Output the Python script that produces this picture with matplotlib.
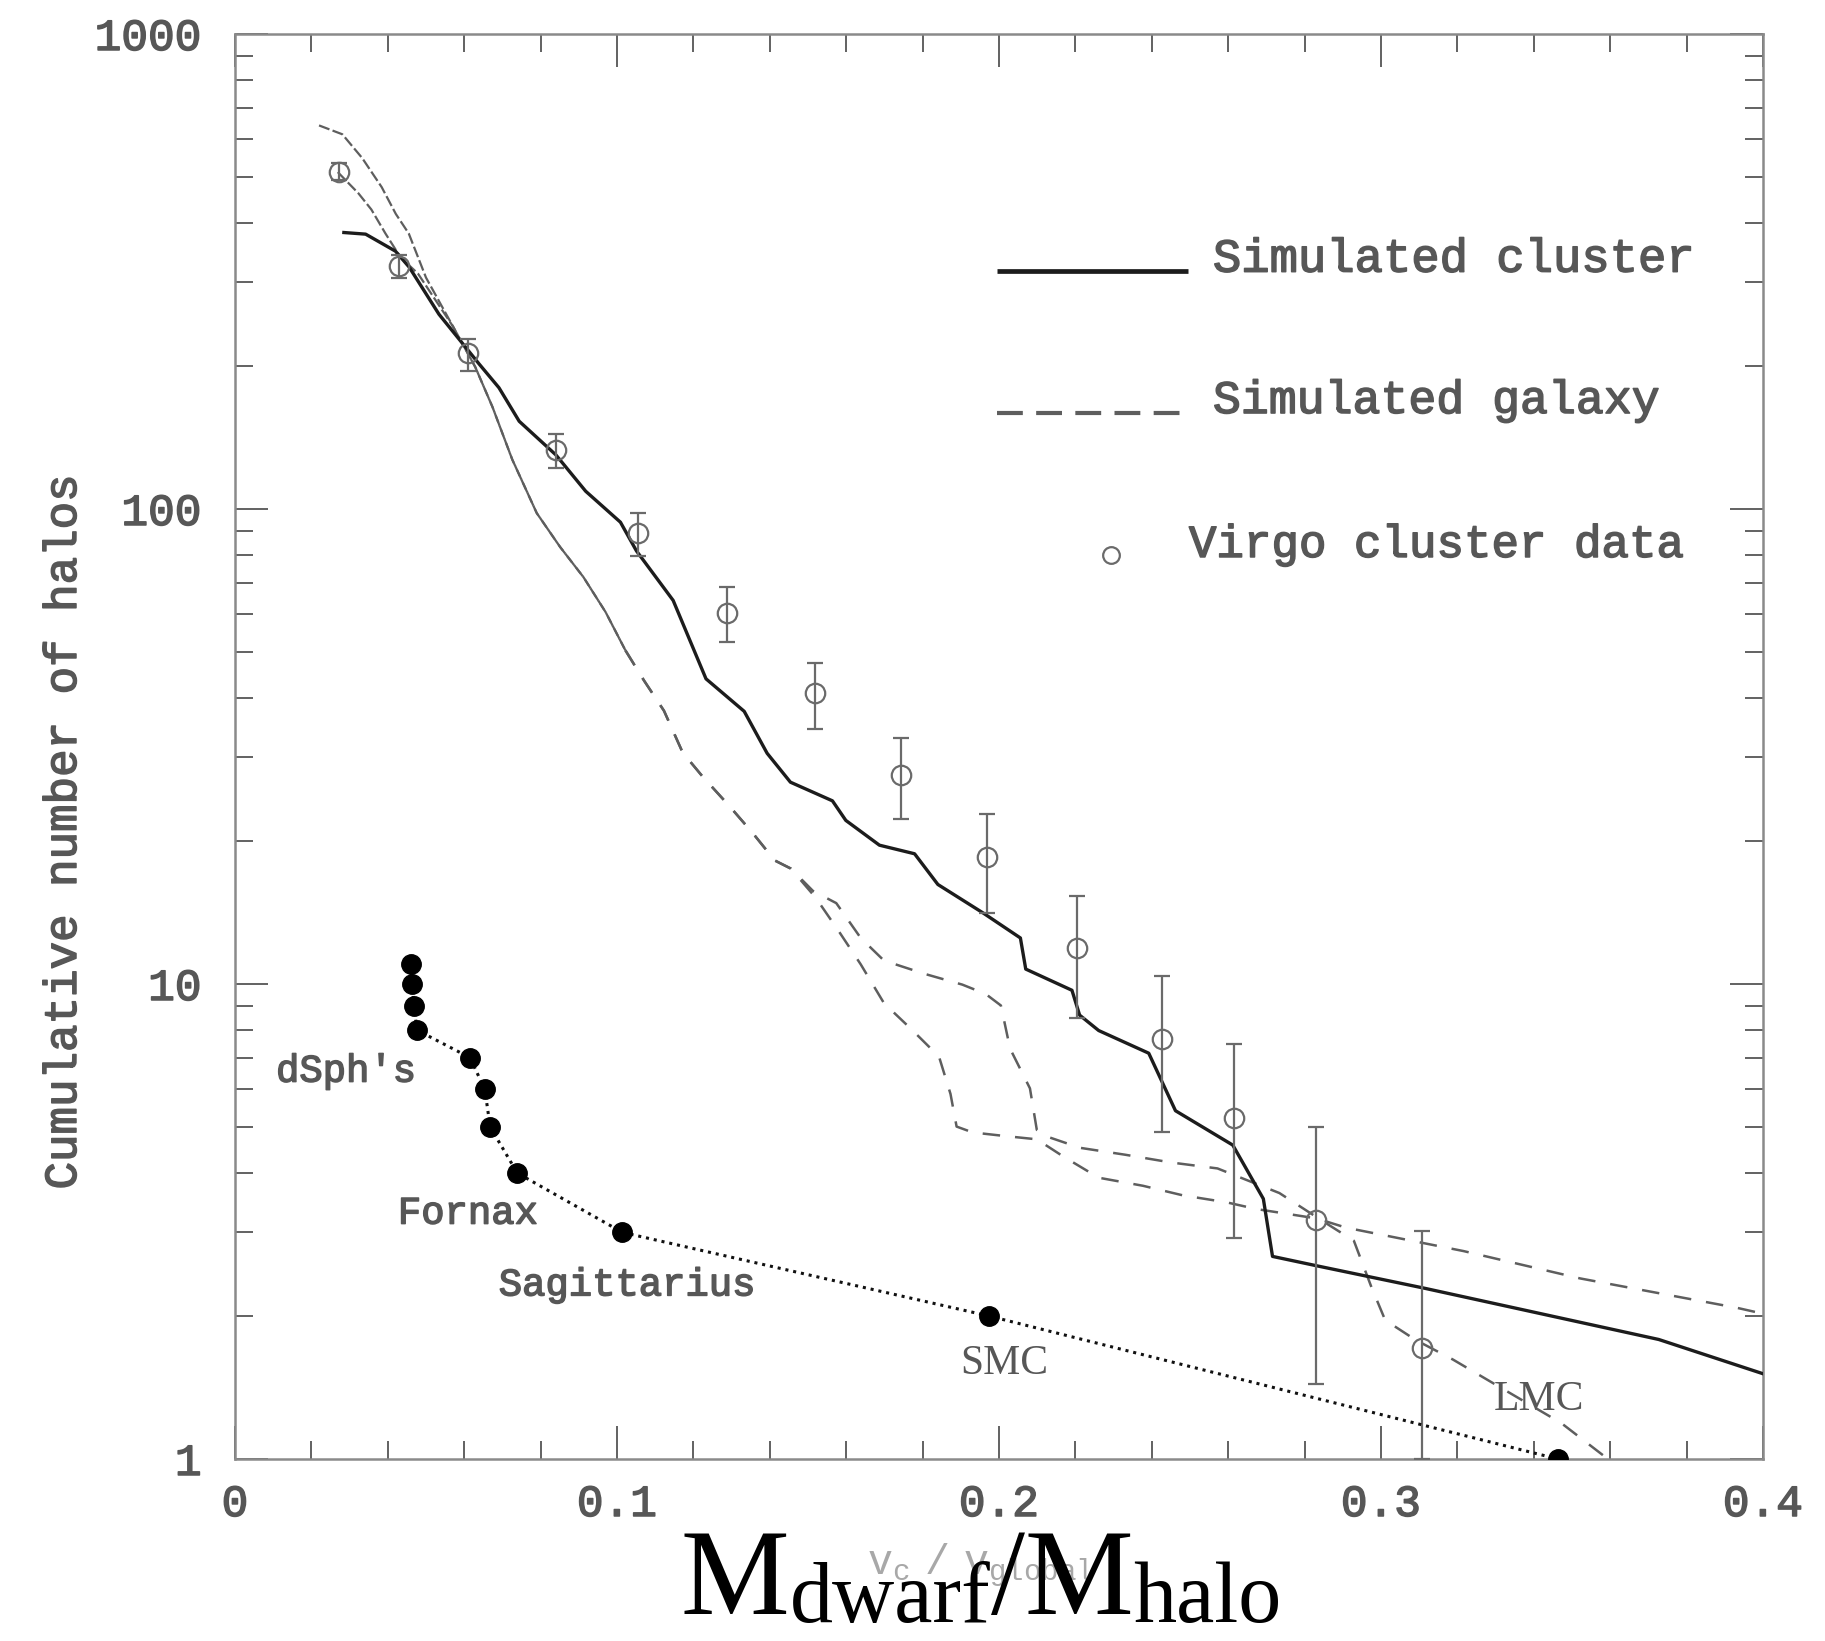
import matplotlib
matplotlib.use("Agg")
import matplotlib.pyplot as plt
import matplotlib.patheffects as pe
from matplotlib.ticker import FixedLocator, MultipleLocator, NullFormatter, LogLocator

# ---------------------------------------------------------------- data
# Simulated cluster: cumulative number of halos vs v_c / v_global
cluster_x = [0.0285, 0.0342, 0.0420, 0.0456, 0.0534, 0.0639, 0.0691, 0.0744,
             0.0840, 0.0918, 0.1009, 0.1051, 0.1147, 0.1233, 0.1333, 0.1393,
             0.1454, 0.1564, 0.1599, 0.1687, 0.1779, 0.1840, 0.1959, 0.2056,
             0.2070, 0.2191, 0.2211, 0.2261, 0.2392, 0.2462, 0.2612, 0.2692,
             0.2716, 0.2833, 0.3112, 0.3727, 0.4002]
cluster_n = [382, 379, 349, 323, 257, 202, 180, 153,
             130, 109, 93.8, 81.6, 64.2, 43.9, 37.5, 30.6,
             26.6, 24.3, 22.1, 19.6, 18.8, 16.2, 14.1, 12.5,
             10.75, 9.70, 8.60, 7.98, 7.15, 5.41, 4.58, 3.53,
             2.67, 2.55, 2.29, 1.785, 1.51]

# Simulated galaxy halos (two runs)
galaxy_a_x = [0.0220, 0.0281, 0.0333, 0.0384, 0.0421, 0.0455, 0.0500, 0.0571,
              0.0629, 0.0674, 0.0726, 0.0790, 0.0851, 0.0912, 0.0970, 0.1022,
              0.1071, 0.1123, 0.1172, 0.1223, 0.1294, 0.1355, 0.1413, 0.1455,
              0.1513, 0.1574, 0.1638, 0.1699, 0.1806, 0.1904, 0.1965, 0.2005,
              0.2029, 0.2081, 0.2099, 0.2130, 0.2212, 0.2331, 0.2450, 0.2572,
              0.2734, 0.2847, 0.2929, 0.2975, 0.3011, 0.3091, 0.3188, 0.3286,
              0.3472, 0.3594]
galaxy_a_n = [642, 615, 548, 476, 418, 380, 307, 242,
              199, 164, 127, 98, 83.2, 71.9, 60.7, 50.4,
              43.5, 37.6, 30.7, 27.4, 23.7, 20.8, 18.2, 17.5,
              15.7, 14.8, 12.5, 11.2, 10.5, 9.97, 9.53, 9.01,
              7.31, 6.03, 4.93, 4.76, 4.52, 4.37, 4.21, 4.09,
              3.63, 3.17, 2.88, 2.30, 1.96, 1.78, 1.62, 1.456,
              1.19, 1.0]

galaxy_b_x = [0.0269, 0.0323, 0.0357, 0.0394, 0.0433, 0.0479, 0.0571, 0.0629,
              0.0674, 0.0726, 0.0790, 0.0851, 0.0912, 0.0970, 0.1022, 0.1071,
              0.1123, 0.1172, 0.1223, 0.1294, 0.1355, 0.1413, 0.1455, 0.1520,
              0.1581, 0.1638, 0.1699, 0.1770, 0.1843, 0.1873, 0.1889, 0.1931,
              0.2011, 0.2099, 0.2169, 0.2261, 0.2377, 0.2481, 0.2596, 0.2673,
              0.2831, 0.2908, 0.3216, 0.3521, 0.3933, 0.4003]
galaxy_b_n = [512, 462, 427, 380, 339, 313, 242, 199,
              164, 127, 98, 83.2, 71.9, 60.7, 50.4, 43.5,
              37.6, 30.7, 27.4, 23.7, 20.8, 18.2, 17.5, 15.2,
              12.9, 11.0, 9.11, 8.04, 7.03, 5.87, 5.01, 4.87,
              4.79, 4.71, 4.33, 3.91, 3.76, 3.59, 3.47, 3.36,
              3.21, 3.07, 2.74, 2.40, 2.08, 2.02]

# Virgo cluster data with error bars
virgo_x = [0.0272, 0.0430, 0.0610, 0.0841, 0.1054, 0.1289, 0.1518,
           0.1743, 0.1969, 0.2203, 0.2426, 0.2614, 0.2831, 0.3108]
virgo_n = [513, 324, 213, 133, 89, 60.4, 41,
           27.5, 18.5, 11.9, 7.67, 5.23, 3.19, 1.71]
virgo_lo = [493, 306, 195, 122, 79.6, 52.4, 34.4,
            22.3, 14.1, 8.49, 4.88, 2.92, 1.44, 1.0]
virgo_hi = [535, 342, 228, 144, 98, 68.4, 47.3,
            33.0, 22.8, 15.3, 10.4, 7.48, 4.99, 3.02]

# Local Group satellites
dwarf_x = [0.0461, 0.0463, 0.0469, 0.0476, 0.0615, 0.0654, 0.0668,
           0.0739, 0.1014, 0.1974, 0.3463]
dwarf_n = [11, 10, 9, 8, 7, 6, 5, 4, 3, 2, 1]

dwarf_names = ["dSph's", "Fornax", "Sagittarius", "SMC", "LMC"]
dwarf_name_x = [0.0291, 0.0610, 0.1027, 0.2013, 0.3414]
dwarf_name_y = [6.23, 3.13, 2.21, 1.51, 1.268]

legend_labels = ["Simulated cluster", "Simulated galaxy", "Virgo cluster data"]

x_ticks = [0, 0.1, 0.2, 0.3, 0.4]
x_tick_labels = ["0", "0.1", "0.2", "0.3", "0.4"]
y_ticks = [1, 10, 100, 1000]
y_tick_labels = ["1", "10", "100", "1000"]

# ---------------------------------------------------------------- figure
W, H = 1825, 1641
fig = plt.figure(figsize=(W / 100, H / 100), dpi=100)
ax = fig.add_axes([235 / W, 1 - 1459 / H, 1528 / W, 1425 / H])

MONO = "Liberation Mono"
SERIF = "Liberation Serif"
GREY_TXT = "#575757"
GAL_C = "#5e5e5e"
# slightly heavier strokes for the typewriter lettering
THICK = [pe.withStroke(linewidth=1.1, foreground=GREY_TXT)]

ax.plot(cluster_x, cluster_n, color="#1c1c1c", lw=2.4, zorder=4,
        solid_joinstyle="round")

# galaxy curves: fine dashes on the steep upper part, longer dashes below
for gx, gn in ((galaxy_a_x, galaxy_a_n), (galaxy_b_x, galaxy_b_n)):
    k = next(i for i, v in enumerate(gx) if v >= 0.10)
    ax.plot(gx[:k + 1], gn[:k + 1], color=GAL_C, lw=1.6, ls=(0, (5, 1.5)),
            zorder=3)
    ax.plot(gx[k:], gn[k:], color=GAL_C, lw=1.8, ls=(0, (7, 6)), zorder=3)

yerr = [[n - lo for n, lo in zip(virgo_n, virgo_lo)],
        [hi - n for n, hi in zip(virgo_n, virgo_hi)]]
ax.errorbar(virgo_x, virgo_n, yerr=yerr, fmt="o", ms=14, mfc="none",
            mec="#6a6a6a", mew=1.6, ecolor="#6a6a6a", elinewidth=1.6,
            capsize=6, capthick=1.6, zorder=5)

ax.plot(dwarf_x, dwarf_n, color="#111111", lw=2.2, ls=(0, (1, 1.6)), zorder=5)
ax.plot(dwarf_x, dwarf_n, ls="none", marker="o", ms=14, color="black", zorder=6)

for name, tx, ty in zip(dwarf_names, dwarf_name_x, dwarf_name_y):
    if name in ("SMC", "LMC"):
        ax.text(tx, ty, name, ha="center", va="baseline", fontsize=30,
                family=SERIF, color=GREY_TXT, zorder=7)
    else:
        ax.text(tx, ty, name, ha="center", va="baseline", fontsize=28,
                family=MONO, color=GREY_TXT, zorder=7, path_effects=THICK)

# ---------------------------------------------------------------- axes
ax.set_xlim(0, 0.4)
ax.set_yscale("log")
ax.set_ylim(1, 1000)

ax.xaxis.set_major_locator(FixedLocator(x_ticks))
ax.set_xticklabels(x_tick_labels)
ax.xaxis.set_minor_locator(MultipleLocator(0.02))
ax.yaxis.set_major_locator(FixedLocator(y_ticks))
ax.set_yticklabels(y_tick_labels)
ax.yaxis.set_minor_locator(LogLocator(base=10, subs=range(2, 10)))
ax.yaxis.set_minor_formatter(NullFormatter())

ax.tick_params(which="both", direction="in", top=True, right=True,
               color="#555555", width=1.3)
ax.tick_params(which="major", length=24)
ax.tick_params(which="minor", length=13)
ax.tick_params(axis="y", which="major", pad=24)
ax.tick_params(axis="x", which="major", pad=18)
for lab in ax.get_xticklabels() + ax.get_yticklabels():
    lab.set_family(MONO)
    lab.set_fontsize(32)
    lab.set_color(GREY_TXT)
    lab.set_path_effects(THICK)

for sp in ax.spines.values():
    sp.set_color("#8a8a8a")
    sp.set_linewidth(1.8)

fig.text(64 / W, 1 - 832 / H, "Cumulative number of halos", rotation=90,
         ha="center", va="center", family=MONO, fontsize=33,
         color=GREY_TXT, path_effects=THICK)

# ---------------------------------------------------------------- key
ax.plot([0.4987, 0.6237], [0.8337, 0.8337], transform=ax.transAxes,
        color="#1c1c1c", lw=3.4, solid_capstyle="butt")
ax.plot([0.4987, 0.6237], [0.734, 0.734], transform=ax.transAxes,
        color=GAL_C, lw=3.0, ls=(0, (6.2, 3.2)))
ax.plot([0.5733], [0.6344], transform=ax.transAxes, marker="o", ms=12,
        mfc="none", mec="#6a6a6a", mew=1.6)
for lbl, lx, ly, fs in zip(legend_labels, [0.640, 0.640, 0.6243],
                           [0.8332, 0.734, 0.633], [34, 33.5, 33]):
    ax.text(lx, ly, lbl, transform=ax.transAxes, ha="left", va="baseline",
            family=MONO, fontsize=fs, color=GREY_TXT, path_effects=THICK)

# ---------------------------------------------------------------- x label
fig.text(867 / W, 1 - 1574 / H, r"$\mathregular{v_c\ /\ v_{global}}$",
         ha="left", va="baseline", family=MONO, fontsize=30, color="#a8a8a8")

renderer = fig.canvas.get_renderer()
pieces = [("M", 88, 1614), ("dwarf", 62, 1622), ("/", 88, 1614),
          ("M", 88, 1614), ("halo", 62, 1622)]
xpos = 681
for txt, size, base in pieces:
    t = fig.text(xpos / W, 1 - base / H, txt, ha="left", va="baseline",
                 family=SERIF, fontsize=size, color="black", zorder=10)
    bb = t.get_window_extent(renderer)
    xpos = bb.x1

fig.savefig("out.png", dpi=100, facecolor="white")
